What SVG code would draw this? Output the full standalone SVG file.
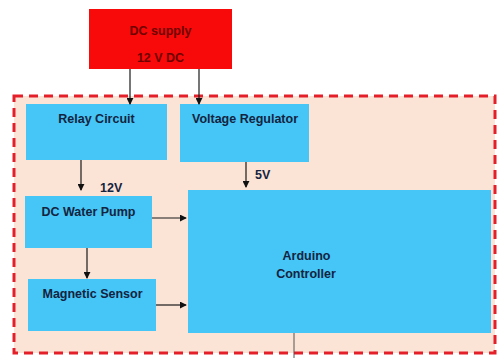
<svg xmlns="http://www.w3.org/2000/svg" width="497" height="358" viewBox="0 0 497 358">
<defs>
<style>
.blk{fill:#45c6f6;}
.t{font-family:"Liberation Sans",Arial,sans-serif;font-weight:bold;font-size:12.5px;fill:#14233f;}
.ts{font-family:"Liberation Sans",Arial,sans-serif;font-weight:bold;font-size:12.5px;fill:#6e0000;}
.c{stroke:#1a1a1a;stroke-width:1.2;fill:none;marker-end:url(#ah);}
</style>
<marker id="ah" viewBox="0 0 8 8" refX="7" refY="4" markerWidth="7" markerHeight="7" markerUnits="userSpaceOnUse" orient="auto">
<path d="M0,0 L8,4 L0,8 z" fill="#111"/>
</marker>
</defs>
<rect width="497" height="358" fill="#ffffff"/>
<g id="container">
<rect x="14" y="96" width="481" height="257" fill="#fbe4d6" stroke="#e3202a" stroke-width="3" stroke-dasharray="9 6"/>
</g>
<g id="dc-supply">
<rect x="89" y="9" width="143" height="60" fill="#f90a0a"/>
<text class="ts" x="160.5" y="35" text-anchor="middle">DC supply</text>
<text class="ts" x="160.5" y="62" text-anchor="middle">12 V DC</text>
</g>
<g id="relay-circuit">
<rect class="blk" x="26" y="104" width="141" height="56"/>
<text class="t" x="96.5" y="123" text-anchor="middle">Relay Circuit</text>
</g>
<g id="voltage-regulator">
<rect class="blk" x="180" y="104" width="129" height="58"/>
<text class="t" x="245" y="123" text-anchor="middle">Voltage Regulator</text>
</g>
<g id="dc-water-pump">
<rect class="blk" x="25" y="196" width="127" height="52"/>
<text class="t" x="88.5" y="216" text-anchor="middle">DC Water Pump</text>
</g>
<g id="magnetic-sensor">
<rect class="blk" x="28" y="279" width="128" height="52"/>
<text class="t" x="92.5" y="298" text-anchor="middle">Magnetic Sensor</text>
</g>
<g id="arduino">
<rect class="blk" x="188" y="190" width="303" height="143"/>
<text class="t" x="306.5" y="260" text-anchor="middle">Arduino</text>
<text class="t" x="306" y="278" text-anchor="middle">Controller</text>
</g>
<g id="connectors">
<line class="c" x1="130" y1="69" x2="130" y2="104"/>
<line class="c" x1="199" y1="69" x2="199" y2="104" stroke-width="1.6"/>
<line class="c" x1="81" y1="160" x2="81" y2="190"/>
<line class="c" x1="246" y1="162" x2="246" y2="187"/>
<line class="c" x1="87" y1="248" x2="87" y2="278"/>
<line class="c" x1="152" y1="218" x2="186" y2="218"/>
<line class="c" x1="156" y1="305" x2="186" y2="305"/>
<line x1="294" y1="333" x2="294" y2="358" stroke="#555" stroke-width="1"/>
</g>
<g id="labels">
<text class="t" x="100" y="192">12V</text>
<text class="t" x="255" y="179">5V</text>
</g>
</svg>
